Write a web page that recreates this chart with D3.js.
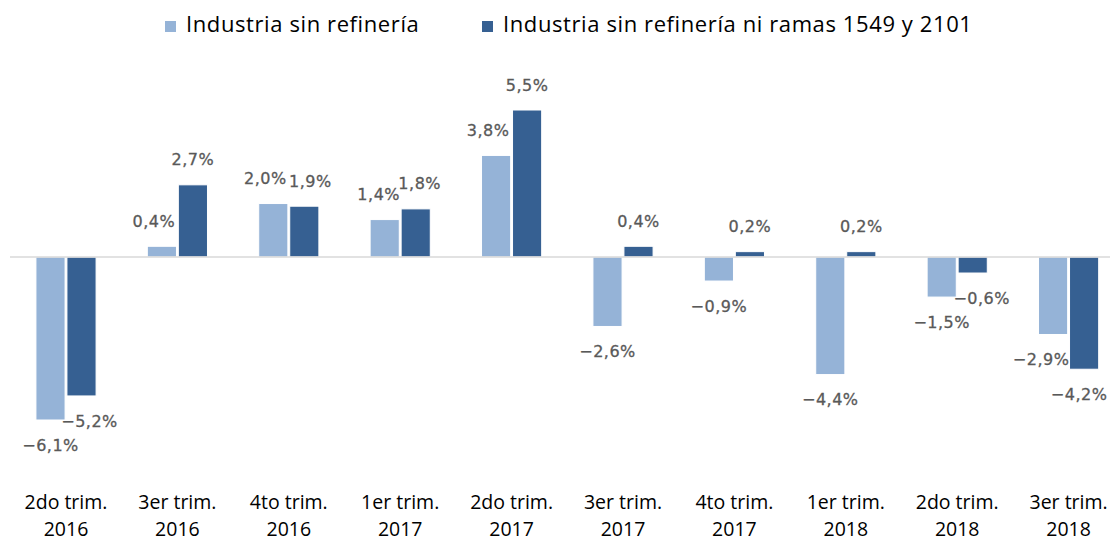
<!DOCTYPE html>
<html>
<head>
<meta charset="utf-8">
<script src="https://cdn.jsdelivr.net/npm/d3@7"></script>
<style>
  html, body { margin: 0; padding: 0; background: #fff; }
  svg { display: block; }
</style>
</head>
<body>
<svg id="chart" width="1110" height="543"></svg>
<script>
// ---- data ----
const categories = [
  ["2do trim.", "2016"], ["3er trim.", "2016"], ["4to trim.", "2016"],
  ["1er trim.", "2017"], ["2do trim.", "2017"], ["3er trim.", "2017"],
  ["4to trim.", "2017"], ["1er trim.", "2018"], ["2do trim.", "2018"],
  ["3er trim.", "2018"]
];
const seriesNames = ["Industria sin refinería", "Industria sin refinería ni ramas 1549 y 2101"];
const industriaSinRefineria = [-6.1, 0.4, 2.0, 1.4, 3.8, -2.6, -0.9, -4.4, -1.5, -2.9];
const industriaSinRefineriaNiRamas = [-5.2, 2.7, 1.9, 1.8, 5.5, 0.4, 0.2, 0.2, -0.6, -4.2];
// small horizontal nudges of data labels (to avoid overlap, as in the original)
const labelNudgeA = [0, -8, -8, -6, -8, 0, 0, 0, 0, -12];
const labelNudgeB = [8, 0, 6, 4, 0, 0, 0, 0, 9, -5];

const colors = ["#95B3D7", "#366092"];

const svg = d3.select("#chart");
const W = 1110, H = 543;

const keys = ["a", "b"];
const data = categories.map((c, i) => ({
  cat: c, idx: i,
  a: industriaSinRefineria[i], b: industriaSinRefineriaNiRamas[i],
  na: labelNudgeA[i], nb: labelNudgeB[i]
}));

const x0 = d3.scaleBand()
  .domain(d3.range(categories.length))
  .range([10.3, 10.3 + 1114])
  .paddingInner(0.46)
  .paddingOuter(0.23);
const x1 = d3.scaleBand().domain(keys).range([0, x0.bandwidth()]).paddingInner(0.06);
const y = d3.scaleLinear().domain([-6.1, 5.5]).range([420, 110]);

// bars
const g = svg.append("g");
const groups = g.selectAll("g.grp").data(data).join("g")
  .attr("class", "grp")
  .attr("transform", d => `translate(${x0(d.idx)},0)`);

groups.selectAll("rect").data(d => keys.map((k, j) => ({ k, j, v: d[k] })))
  .join("rect")
  .attr("x", d => x1(d.k))
  .attr("width", x1.bandwidth())
  .attr("y", d => y(Math.max(0, d.v)))
  .attr("height", d => Math.abs(y(d.v) - y(0)))
  .attr("fill", d => colors[d.j])
  .attr("stroke", "#fff")
  .attr("stroke-width", 1);

// zero line
svg.append("line")
  .attr("x1", 10).attr("x2", W)
  .attr("y1", y(0)).attr("y2", y(0))
  .attr("stroke", "#D9D9D9").attr("stroke-width", 1.5);

// data labels
const fmt = v => (v < 0 ? "\u2212" : "") + d3.format(".1f")(Math.abs(v)).replace(".", ",") + "%";
groups.selectAll("text.lbl").data(d => keys.map((k, j) => ({ k, j, v: d[k], n: d["n" + k] })))
  .join("text")
  .attr("class", "lbl")
  .attr("x", d => x1(d.k) + x1.bandwidth() / 2 + d.n)
  .attr("y", d => y(d.v) + (d.v >= 0 ? -25 : 25))
  .attr("dy", "0.35em")
  .attr("text-anchor", "middle")
  .attr("font-family", "DejaVu Sans, Verdana, sans-serif")
  .attr("font-size", 16)
  .attr("letter-spacing", 0.5)
  .attr("stroke", "#595959")
  .attr("stroke-width", 0.3)
  .attr("fill", "#595959")
  .text(d => fmt(d.v));

// category labels
const cl = svg.append("g").selectAll("text").data(data).join("text")
  .attr("text-anchor", "middle")
  .attr("font-family", "Open Sans, sans-serif")
  .attr("font-size", 19.5)
  .attr("fill", "#000");
cl.append("tspan").attr("x", d => x0(d.idx) + x0.bandwidth() / 2).attr("y", 509).text(d => d.cat[0]);
cl.append("tspan").attr("x", d => x0(d.idx) + x0.bandwidth() / 2).attr("y", 536).text(d => d.cat[1]);

// legend
const legendX = [165, 482];
const leg = svg.append("g").selectAll("g").data(seriesNames).join("g")
  .attr("transform", (d, i) => `translate(${legendX[i]},0)`);
leg.append("rect").attr("x", 0).attr("y", 21).attr("width", 11).attr("height", 11)
  .attr("fill", (d, i) => colors[i]);
leg.append("text").attr("x", 21).attr("y", 32)
  .attr("font-family", "Open Sans, sans-serif")
  .attr("font-size", 22)
  .attr("letter-spacing", 0.6)
  .attr("fill", "#000")
  .text(d => d);
</script>
</body>
</html>
